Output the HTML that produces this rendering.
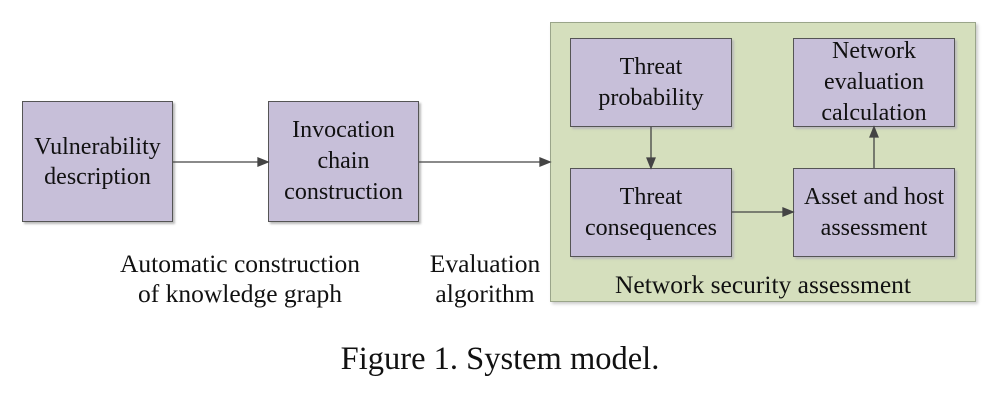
<!DOCTYPE html>
<html><head><style>
body{margin:0;width:992px;height:400px;background:#fff;position:relative;font-family:"Liberation Serif",serif;color:#111;overflow:hidden}
.b{position:absolute;background:#c7bfd9;border:1px solid #555;box-sizing:border-box;display:flex;align-items:center;justify-content:center;text-align:center;font-size:24px;line-height:31px;box-shadow:2px 2px 2px #bbb;white-space:nowrap}
.t{position:absolute;text-align:center;font-size:25.5px;line-height:30px;white-space:nowrap}
</style></head><body>
<div style="position:absolute;left:550px;top:22px;width:426px;height:280px;background:#d5dfbd;border:1px solid #9aa58a;box-sizing:border-box;box-shadow:2px 2px 3px #ccc"></div>
<div class="b" style="left:22px;top:101px;width:151px;height:121px;line-height:30px">Vulnerability<br>description</div>
<div class="b" style="left:268px;top:101px;width:151px;height:121px">Invocation<br>chain<br>construction</div>
<div class="b" style="left:570px;top:38px;width:162px;height:89px">Threat<br>probability</div>
<div class="b" style="left:793px;top:38px;width:162px;height:89px">Network<br>evaluation<br>calculation</div>
<div class="b" style="left:570px;top:168px;width:162px;height:89px">Threat<br>consequences</div>
<div class="b" style="left:793px;top:168px;width:162px;height:89px">Asset and host<br>assessment</div>
<svg style="position:absolute;left:0;top:0" width="992" height="400">
<g stroke="#444" stroke-width="1.3" fill="#444">
<line x1="173" y1="162" x2="262" y2="162"/><polygon points="268,162 258,158 258,166"/>
<line x1="419" y1="162" x2="544" y2="162"/><polygon points="550,162 540,158 540,166"/>
<line x1="651" y1="127" x2="651" y2="162"/><polygon points="651,168 647,158 655,158"/>
<line x1="732" y1="212" x2="787" y2="212"/><polygon points="793,212 783,208 783,216"/>
<line x1="874" y1="168" x2="874" y2="133"/><polygon points="874,127 870,137 878,137"/>
</g></svg>
<div class="t" style="left:90px;top:249px;width:300px">Automatic construction<br>of knowledge graph</div>
<div class="t" style="left:415px;top:249px;width:140px">Evaluation<br>algorithm</div>
<div class="t" style="left:550px;top:270px;width:426px">Network security assessment</div>
<div class="t" style="left:0;top:340px;width:1000px;font-size:32.5px;line-height:38px">Figure 1. System model.</div>
</body></html>
